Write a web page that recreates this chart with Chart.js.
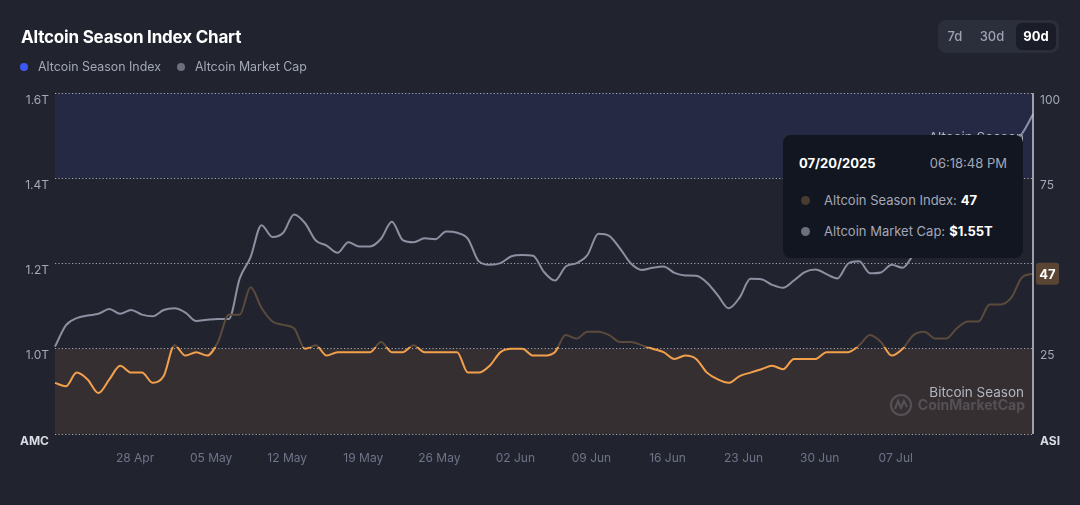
<!DOCTYPE html>
<html>
<head>
<meta charset="utf-8">
<title>Altcoin Season Index Chart</title>
<script src="https://cdn.jsdelivr.net/npm/chart.js@4.4.1/dist/chart.umd.min.js"></script>
<style>
  html, body { margin: 0; padding: 0; background: #21242f; overflow: hidden; }
  body { width: 1080px; height: 505px; font-family: Inter, "Noto Sans", sans-serif; }
  #wrap { position: relative; width: 1080px; height: 505px; }
  #chart { position: absolute; left: 0; top: 0; }
  .title { position: absolute; left: 21px; top: 27px; font-size: 17px; font-weight: 700; color: #fff; letter-spacing: -0.2px; }
  .legend { position: absolute; left: 20px; top: 59px; display: flex; gap: 16px; font-size: 12.4px; color: #a3a7b7; }
  .legend span { display: flex; align-items: center; }
  .legend i { display: inline-block; width: 8px; height: 8px; border-radius: 50%; margin-right: 10px; }
  .range { position: absolute; left: 938px; top: 20px; width: 121px; height: 33px; background: #2b2e3b; border-radius: 8px; }
  .range b { position: absolute; top: 3px; height: 27px; line-height: 27px; font-size: 13px; font-weight: 500; color: #9ca1b3; text-align: center; }
  .range b.on { background: #1a1d28; color: #fff; font-weight: 700; border-radius: 6px; }
  #tip { position: absolute; display: none; width: 240px; height: 123px; background: #121620; border-radius: 8px; color: #a3a7b7; font-size: 13px; box-sizing: border-box; padding: 0 16px; }
  #tip .head { display: flex; justify-content: space-between; margin-top: 20px; }
  #tip .head b { color: #fff; font-weight: 700; }
  #tip .row { display: flex; align-items: center; margin-top: 21px; }
  #tip .row + .row { margin-top: 15px; }
  #tip .row i { display: inline-block; width: 9px; height: 9px; border-radius: 50%; margin: 0 14px 0 2px; }
  #tip .row b { color: #fff; margin-left: 4px; }
</style>
</head>
<body>
<div id="wrap">
  <canvas id="chart" width="1080" height="505"></canvas>
  <div class="title">Altcoin Season Index Chart</div>
  <div class="legend">
    <span><i style="background:#3d59f5"></i>Altcoin Season Index</span>
    <span><i style="background:#6c6f7d"></i>Altcoin Market Cap</span>
  </div>
  <div class="range">
    <b style="left:2px;width:30px">7d</b>
    <b style="left:38px;width:32px">30d</b>
    <b class="on" style="left:78px;width:40px">90d</b>
  </div>
  <div id="tip"></div>
</div>
<script>
// daily points, 21 Apr 2025 -> 20 Jul 2025
const monthNames = ['Jan', 'Feb', 'Mar', 'Apr', 'May', 'Jun', 'Jul', 'Aug', 'Sep', 'Oct', 'Nov', 'Dec'];
const weekTicks = ['28 Apr', '05 May', '12 May', '19 May', '26 May', '02 Jun', '09 Jun', '16 Jun', '23 Jun', '30 Jun', '07 Jul'];
const tipTime = '06:18:48 PM';

// Altcoin Season Index (0-100)
const seasonIndex = [
  15, 14, 18, 16, 12, 16, 20, 18, 18, 15,
  17, 26, 23, 24, 23, 27, 35, 35, 43, 37,
  33, 32, 31, 25, 26, 23, 24, 24, 24, 24,
  27, 24, 24, 26, 24, 24, 24, 24, 18, 18,
  20, 24, 25, 25, 23, 23, 24, 29, 28, 30,
  30, 29, 27, 27, 26, 25, 24, 22, 23, 22,
  18, 16, 15, 17, 18, 19, 20, 19, 22, 22,
  22, 24, 24, 24, 26, 29, 27, 23, 25, 29,
  30, 28, 28, 31, 33, 33, 38, 38, 40, 46,
  47
];

// Altcoin market cap, trillions USD
const marketCap = [
  1.005, 1.055, 1.072, 1.078, 1.082, 1.093, 1.082, 1.091, 1.080, 1.076,
  1.091, 1.095, 1.085, 1.065, 1.068, 1.070, 1.070, 1.165, 1.215, 1.290,
  1.262, 1.272, 1.315, 1.295, 1.254, 1.242, 1.225, 1.250, 1.240, 1.240,
  1.258, 1.298, 1.255, 1.250, 1.259, 1.257, 1.275, 1.272, 1.258, 1.205,
  1.197, 1.201, 1.217, 1.220, 1.218, 1.180, 1.160, 1.193, 1.201, 1.220,
  1.270, 1.265, 1.235, 1.200, 1.185, 1.190, 1.193, 1.178, 1.172, 1.171,
  1.155, 1.125, 1.095, 1.120, 1.164, 1.163, 1.150, 1.143, 1.160, 1.180,
  1.186, 1.175, 1.165, 1.200, 1.205, 1.177, 1.179, 1.197, 1.190, 1.220,
  1.240, 1.260, 1.290, 1.320, 1.360, 1.400, 1.430, 1.460, 1.480, 1.505,
  1.550
];

const days = seasonIndex.map((v, i) => new Date(2025, 3, 21 + i));
const pad2 = n => String(n).padStart(2, '0');
const dayLabel = d => pad2(d.getDate()) + ' ' + monthNames[d.getMonth()];
const labels = days.map(dayLabel);

const orange = '#f2a04c';
const dimBrown = '#5c4a3c';
const last = seasonIndex.length - 1;

// season bands, captions, watermark
const bandsPlugin = {
  id: 'bands',
  beforeDraw(chart) {
    const { ctx, chartArea: a } = chart;
    const y1 = chart.scales.y1;
    ctx.save();
    ctx.fillStyle = '#262944';
    ctx.fillRect(a.left, y1.getPixelForValue(100), a.right - a.left, y1.getPixelForValue(75) - y1.getPixelForValue(100));
    ctx.fillStyle = '#352f32';
    ctx.fillRect(a.left, y1.getPixelForValue(25), a.right - a.left, y1.getPixelForValue(0) - y1.getPixelForValue(25));
    ctx.restore();
  },
  beforeDatasetsDraw(chart) {
    const { ctx, chartArea: a } = chart;
    const y1 = chart.scales.y1;
    ctx.save();
    ctx.textAlign = 'right';
    ctx.textBaseline = 'middle';
    ctx.font = '13.5px Inter, sans-serif';
    ctx.fillStyle = '#b3b5c0';
    ctx.fillText('Altcoin Season', a.right - 9, y1.getPixelForValue(75) - 40);
    ctx.fillText('Bitcoin Season', a.right - 9, y1.getPixelForValue(0) - 41);
    // CoinMarketCap watermark
    ctx.fillStyle = 'rgba(150,150,160,0.33)';
    ctx.font = 'bold 14px Inter, sans-serif';
    ctx.fillText('CoinMarketCap', a.right - 8, y1.getPixelForValue(0) - 28);
    ctx.strokeStyle = 'rgba(150,150,160,0.33)';
    ctx.lineWidth = 2.2;
    const cx = 901, cy = y1.getPixelForValue(0) - 29;
    ctx.beginPath();
    ctx.arc(cx, cy, 10, 0, Math.PI * 2);
    ctx.stroke();
    ctx.beginPath();
    ctx.moveTo(cx - 6, cy + 4);
    ctx.lineTo(cx - 3, cy - 4);
    ctx.lineTo(cx, cy + 3);
    ctx.lineTo(cx + 3, cy - 4);
    ctx.lineTo(cx + 6, cy + 2);
    ctx.stroke();
    ctx.restore();
  },
  afterDatasetsDraw(chart) {
    const act = chart.tooltip.getActiveElements();
    if (!act.length) return;
    const { ctx, chartArea: a } = chart;
    const x = act[0].element.x;
    ctx.save();
    ctx.strokeStyle = '#c7cad4';
    ctx.lineWidth = 1.5;
    ctx.beginPath();
    ctx.moveTo(x, a.top);
    ctx.lineTo(x, a.bottom);
    ctx.stroke();
    ctx.restore();
  },
  afterDraw(chart) {
    // value badge on the right axis
    const { ctx, chartArea: a } = chart;
    const y = chart.scales.y1.getPixelForValue(seasonIndex[last]);
    ctx.save();
    ctx.fillStyle = '#5a4535';
    ctx.beginPath();
    ctx.roundRect(a.right + 3, y - 11, 23, 22, 3);
    ctx.fill();
    ctx.fillStyle = '#fff';
    ctx.font = 'bold 13px Inter, sans-serif';
    ctx.textAlign = 'center';
    ctx.textBaseline = 'middle';
    ctx.fillText(String(seasonIndex[last]), a.right + 14.5, y + 1);
    ctx.restore();
  }
};

function externalTip(context) {
  const { chart, tooltip } = context;
  const el = document.getElementById('tip');
  if (tooltip.opacity === 0 || !tooltip.dataPoints || !tooltip.dataPoints.length) {
    el.style.display = 'none';
    return;
  }
  const i = tooltip.dataPoints[0].dataIndex;
  const d = days[i];
  const dateText = pad2(d.getMonth() + 1) + '/' + pad2(d.getDate()) + '/' + d.getFullYear();
  el.innerHTML =
    '<div class="head"><b>' + dateText + '</b><span>' + tipTime + '</span></div>' +
    '<div class="row"><i style="background:#4a3a30"></i>Altcoin Season Index:<b>' + seasonIndex[i] + '</b></div>' +
    '<div class="row"><i style="background:#6c6f7d"></i>Altcoin Market Cap:<b>$' + marketCap[i].toFixed(2) + 'T</b></div>';
  el.style.display = 'block';
  el.style.left = (tooltip.caretX - 250) + 'px';
  el.style.top = (chart.chartArea.top + 42) + 'px';
}

const near = (a, b) => Math.abs(a - b) < 1e-6;
const isTick = (c, v) => !!(c && c.tick) && near(c.tick.value, v);

const chart = new Chart(document.getElementById('chart'), {
  type: 'line',
  data: {
    labels: labels,
    datasets: [
      {
        label: 'Altcoin Season Index',
        data: seasonIndex,
        yAxisID: 'y1',
        borderWidth: 2,
        cubicInterpolationMode: 'monotone',
        pointRadius: 0,
        pointHoverRadius: 0,
        borderColor: (ctx) => {
          const c = ctx.chart;
          const a = c.chartArea;
          if (!a || !c.scales.y1) return orange;
          const y25 = c.scales.y1.getPixelForValue(25) - 1.5;
          const s = Math.min(1, Math.max(0, (y25 - a.top) / (a.bottom - a.top)));
          const g = c.ctx.createLinearGradient(0, a.top, 0, a.bottom);
          g.addColorStop(0, dimBrown);
          g.addColorStop(s, dimBrown);
          g.addColorStop(s, orange);
          g.addColorStop(1, orange);
          return g;
        }
      },
      {
        label: 'Altcoin Market Cap',
        data: marketCap,
        yAxisID: 'y',
        borderColor: '#8c90a1',
        borderWidth: 2,
        cubicInterpolationMode: 'monotone',
        pointRadius: 0,
        pointHoverRadius: 0
      }
    ]
  },
  options: {
    responsive: false,
    animation: false,
    layout: { padding: { top: 93, left: 0, right: 0, bottom: 0 } },
    interaction: { mode: 'index', intersect: false },
    plugins: {
      legend: { display: false },
      title: { display: false },
      tooltip: { enabled: false, external: externalTip }
    },
    scales: {
      x: {
        grid: { display: false },
        border: { display: false },
        afterFit: s => { s.height = 71; },
        ticks: {
          autoSkip: false,
          maxRotation: 0,
          padding: 9,
          labelOffset: 4,
          color: '#6f7489',
          font: { family: 'Inter', size: 12 },
          callback: function (v, i) {
            const l = labels[i];
            return weekTicks.includes(l) ? l : null;
          }
        }
      },
      y: {
        position: 'left',
        min: 0.8,
        max: 1.6,
        afterFit: s => { s.width = 55; },
        grid: { color: 'rgba(220,222,232,0.7)', lineWidth: 1, drawTicks: false },
        border: { display: false, dash: [1.2, 2.2] },
        ticks: {
          stepSize: 0.2,
          padding: 6,
          labelOffset: 7,
          color: (c) => isTick(c, 0.8) ? '#d9dbe3' : '#a3a7b7',
          font: (c) => isTick(c, 0.8)
            ? { family: 'Inter', size: 12, weight: 'bold' }
            : { family: 'Inter', size: 12 },
          callback: v => near(v, 0.8) ? 'AMC' : v.toFixed(1) + 'T'
        }
      },
      y1: {
        position: 'right',
        min: 0,
        max: 100,
        afterFit: s => { s.width = 47; },
        grid: { display: false, drawTicks: false },
        border: { display: false },
        ticks: {
          stepSize: 25,
          padding: 7,
          labelOffset: 7,
          color: (c) => isTick(c, 0) ? '#d9dbe3' : '#a3a7b7',
          font: (c) => isTick(c, 0)
            ? { family: 'Inter', size: 12, weight: 'bold' }
            : { family: 'Inter', size: 12 },
          callback: v => v === 0 ? 'ASI' : String(v)
        }
      }
    }
  },
  plugins: [bandsPlugin]
});

// show the tooltip on the last day, as in the snapshot
chart.tooltip.setActiveElements(
  [{ datasetIndex: 0, index: last }, { datasetIndex: 1, index: last }],
  { x: chart.scales.x.getPixelForValue(last), y: chart.scales.y1.getPixelForValue(seasonIndex[last]) }
);
chart.update();
</script>
</body>
</html>
